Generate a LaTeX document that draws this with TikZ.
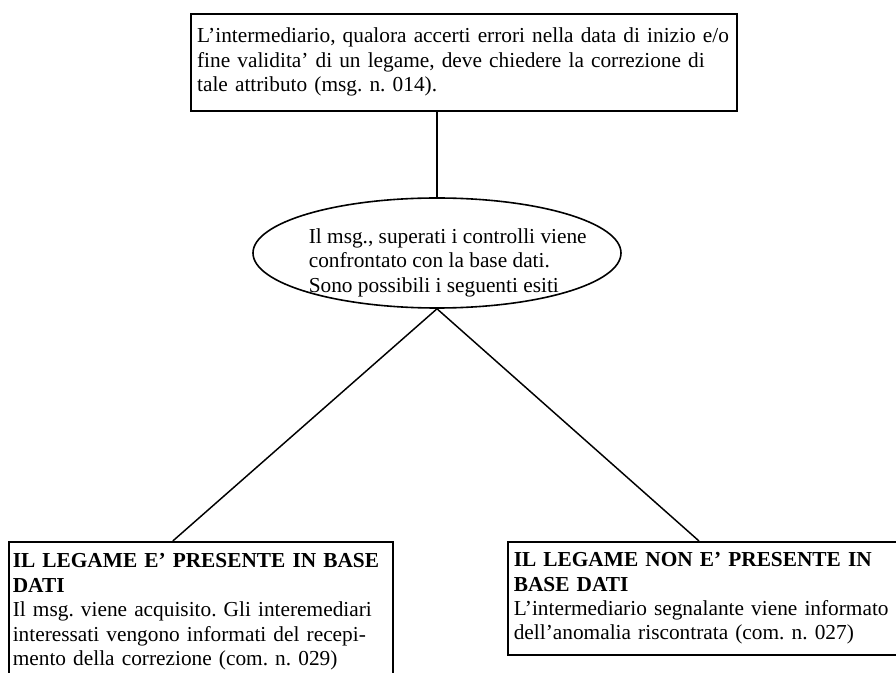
\documentclass[tikz,border=0pt]{standalone}
\usepackage{fontspec}
\setmainfont{Liberation Serif}
\usetikzlibrary{shapes.geometric}
\begin{document}
\frenchspacing
\begin{tikzpicture}[x=0.75pt, y=-0.75pt, line width=1.2pt,
  body/.style={font=\fontsize{16pt}{18.3pt}\selectfont, align=left},
  frame/.style={draw, rectangle, anchor=north west, body},
  link/.style={draw, line width=1.1pt}]
\useasboundingbox (0,0) rectangle (896,673);
\clip (0,0) rectangle (896,673);

% request box
\node[frame, text width=400pt, inner xsep=4.75pt, inner ysep=0pt,
      minimum width=409.5pt, minimum height=72.75pt] (richiesta) at (190,13)
  {L’intermediario, qualora accerti errori nella data di inizio e/o\\
   fine validita’ di un legame, deve chiedere la correzione di\\
   tale attributo (msg. n. 014).};

% comparison with the data base
\node[draw, ellipse, inner sep=0pt, minimum width=276pt,
      minimum height=82.5pt] (confronto) at (437,253) {};
\node[body, anchor=north west, inner sep=0pt] (confrontotxt) at (308,228)
  {Il msg., superati i controlli viene\\
   confrontato con la base dati.\\
   Sono possibili i seguenti esiti};

% the two outcomes
\node[frame, text width=282pt, inner xsep=3pt, inner ysep=9pt,
      minimum width=288pt] (presente) at (8,541)
  {\textbf{IL LEGAME E’ PRESENTE IN BASE}\\
   \textbf{DATI}\\
   Il msg. viene acquisito. Gli interemediari\\
   interessati vengono informati del recepi-\\
   mento della correzione (com. n. 029)};

\node[frame, text width=320pt, inner xsep=4.5pt, inner ysep=8pt,
      minimum width=329pt] (assente) at (507,541)
  {\textbf{IL LEGAME NON E’ PRESENTE IN}\\
   \textbf{BASE DATI}\\
   L’intermediario segnalante viene informato\\
   dell’anomalia riscontrata (com. n. 027)};

% connectors
\draw[link] (confronto.north |- richiesta.south) -- (confronto.north);
\draw[link] (confronto.south) -- ([xshift=-21pt]presente.north);
\draw[link] (confronto.south) -- ([xshift=144pt]assente.north west);
\end{tikzpicture}
\end{document}
